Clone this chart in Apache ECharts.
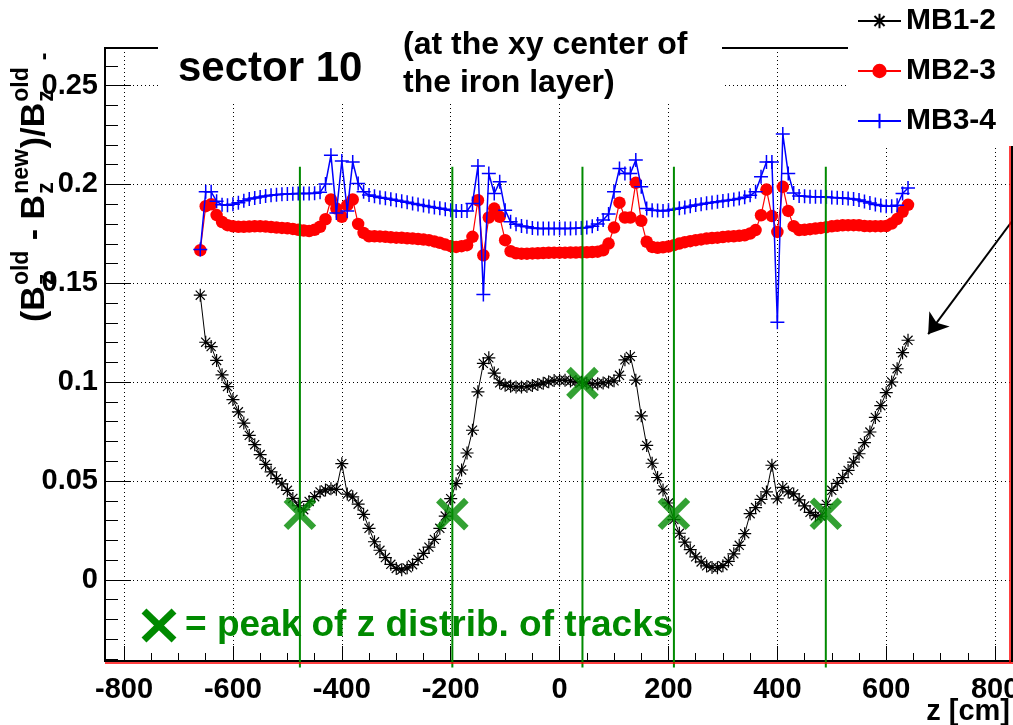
<!DOCTYPE html>
<html>
<head>
<meta charset="utf-8">
<title>sector 10</title>
<script src="https://cdn.jsdelivr.net/npm/echarts@6/dist/echarts.min.js"></script>
<style>
  html, body { margin: 0; padding: 0; background: #fff; }
  #chart { width: 1013px; height: 725px; }
</style>
</head>
<body>
<div id="chart"></div>
<script>
// z positions of the field samples [cm]
const zPositions = [
  -660, -650, -640, -630, -620, -610, -600, -590, -580, -570,
  -560, -550, -540, -530, -520, -510, -500, -490, -480, -470,
  -460, -450, -440, -430, -420, -410, -400, -390, -380, -370,
  -360, -350, -340, -330, -320, -310, -300, -290, -280, -270,
  -260, -250, -240, -230, -220, -210, -200, -190, -180, -170,
  -160, -150, -140, -130, -120, -110, -100, -90, -80, -70,
  -60, -50, -40, -30, -20, -10, 0, 10, 20, 30,
  40, 50, 60, 70, 80, 90, 100, 110, 120, 130,
  140, 150, 160, 170, 180, 190, 200, 210, 220, 230,
  240, 250, 260, 270, 280, 290, 300, 310, 320, 330,
  340, 350, 360, 370, 380, 390, 400, 410, 420, 430,
  440, 450, 460, 470, 480, 490, 500, 510, 520, 530,
  540, 550, 560, 570, 580, 590, 600, 610, 620, 630,
  640
];

// (Bz_old - Bz_new) / Bz_old between MB1 and MB2
const mb12 = [
  0.1440, 0.1202, 0.1180, 0.1110, 0.1037, 0.0978, 0.0912, 0.0850, 0.0793, 0.0731,
  0.0684, 0.0634, 0.0584, 0.0546, 0.0512, 0.0486, 0.0453, 0.0412, 0.0375, 0.0355,
  0.0397, 0.0421, 0.0445, 0.0455, 0.0461, 0.0458, 0.0588, 0.0434, 0.0420, 0.0383,
  0.0332, 0.0261, 0.0193, 0.0150, 0.0113, 0.0079, 0.0058, 0.0051, 0.0061, 0.0077,
  0.0104, 0.0134, 0.0166, 0.0205, 0.0261, 0.0323, 0.0411, 0.0487, 0.0556, 0.0642,
  0.0757, 0.0951, 0.1095, 0.1123, 0.1046, 0.0997, 0.0984, 0.0979, 0.0976, 0.0976,
  0.0978, 0.0983, 0.0988, 0.0995, 0.1002, 0.1008, 0.1010, 0.1010, 0.1006, 0.1003,
  0.1000, 0.0995, 0.0991, 0.0992, 0.0996, 0.1001, 0.1007, 0.1035, 0.1113, 0.1130,
  0.1010, 0.0830, 0.0680, 0.0590, 0.0518, 0.0455, 0.0389, 0.0305, 0.0236, 0.0191,
  0.0153, 0.0117, 0.0091, 0.0071, 0.0063, 0.0062, 0.0072, 0.0094, 0.0132, 0.0175,
  0.0234, 0.0335, 0.0366, 0.0407, 0.0445, 0.0580, 0.0410, 0.0468, 0.0445, 0.0435,
  0.0405, 0.0374, 0.0342, 0.0325, 0.0322, 0.0382, 0.0453, 0.0488, 0.0517, 0.0554,
  0.0596, 0.0638, 0.0694, 0.0748, 0.0822, 0.0881, 0.0947, 0.1001, 0.1068, 0.1149,
  0.1212
];

// same ratio between MB2 and MB3
const mb23 = [
  0.1667, 0.1890, 0.1900, 0.1845, 0.1810, 0.1794, 0.1788, 0.1786, 0.1786, 0.1787,
  0.1788, 0.1788, 0.1787, 0.1785, 0.1782, 0.1780, 0.1778, 0.1775, 0.1771, 0.1767,
  0.1764, 0.1771, 0.1786, 0.1824, 0.1924, 0.1878, 0.1836, 0.1895, 0.1924, 0.1800,
  0.1755, 0.1738, 0.1738, 0.1737, 0.1735, 0.1733, 0.1731, 0.1730, 0.1728, 0.1726,
  0.1724, 0.1721, 0.1718, 0.1712, 0.1705, 0.1696, 0.1688, 0.1684, 0.1688, 0.1693,
  0.1735, 0.1920, 0.1642, 0.1833, 0.1878, 0.1836, 0.1718, 0.1662, 0.1652, 0.1650,
  0.1650, 0.1651, 0.1652, 0.1653, 0.1654, 0.1655, 0.1655, 0.1655, 0.1656, 0.1656,
  0.1657, 0.1657, 0.1658, 0.1660, 0.1667, 0.1701, 0.1782, 0.1908, 0.1833, 0.1833,
  0.2008, 0.1816, 0.1710, 0.1684, 0.1680, 0.1682, 0.1686, 0.1693, 0.1701, 0.1708,
  0.1713, 0.1718, 0.1722, 0.1726, 0.1729, 0.1731, 0.1734, 0.1737, 0.1738, 0.1740,
  0.1743, 0.1752, 0.1769, 0.1844, 0.1974, 0.1840, 0.1760, 0.1988, 0.1866, 0.1789,
  0.1769, 0.1771, 0.1774, 0.1777, 0.1780, 0.1784, 0.1788, 0.1791, 0.1793, 0.1794,
  0.1794, 0.1793, 0.1790, 0.1789, 0.1789, 0.1789, 0.1790, 0.1802, 0.1825, 0.1862,
  0.1897
];

// same ratio between MB3 and MB4
const mb34 = [
  0.1671, 0.1963, 0.1963, 0.1915, 0.1897, 0.1895, 0.1900, 0.1908, 0.1918, 0.1926,
  0.1932, 0.1937, 0.1941, 0.1945, 0.1948, 0.1950, 0.1952, 0.1953, 0.1954, 0.1954,
  0.1954, 0.1955, 0.1960, 0.2002, 0.2148, 0.1856, 0.2118, 0.1866, 0.2114, 0.2005,
  0.1963, 0.1946, 0.1940, 0.1934, 0.1930, 0.1925, 0.1920, 0.1915, 0.1910, 0.1904,
  0.1899, 0.1893, 0.1888, 0.1884, 0.1879, 0.1874, 0.1870, 0.1866, 0.1866, 0.1866,
  0.1904, 0.2093, 0.1444, 0.2055, 0.1954, 0.2013, 0.1870, 0.1811, 0.1799, 0.1790,
  0.1786, 0.1780, 0.1777, 0.1777, 0.1777, 0.1777, 0.1777, 0.1777, 0.1777, 0.1778,
  0.1780, 0.1782, 0.1789, 0.1800, 0.1820, 0.1850, 0.1963, 0.2081, 0.2055, 0.2055,
  0.2123, 0.1988, 0.1878, 0.1870, 0.1868, 0.1866, 0.1870, 0.1874, 0.1880, 0.1884,
  0.1890, 0.1896, 0.1900, 0.1905, 0.1909, 0.1912, 0.1916, 0.1920, 0.1924, 0.1929,
  0.1935, 0.1945, 0.1963, 0.2039, 0.2114, 0.2114, 0.1303, 0.2255, 0.2055, 0.1957,
  0.1941, 0.1940, 0.1938, 0.1938, 0.1938, 0.1937, 0.1934, 0.1933, 0.1931, 0.1929,
  0.1926, 0.1921, 0.1914, 0.1906, 0.1898, 0.1893, 0.1890, 0.1890, 0.1895, 0.1954,
  0.1982
];

// peaks of the z distribution of tracks
const peakZ = [-477, -197, 42, 210, 489];
const peakV = [0.0335, 0.0333, 0.0995, 0.0335, 0.0335];

// vertical extent of the green guide lines through the peaks
const guideTop = 0.209;
const guideBottom = -0.0443;

// arrow pointing at the MB1-2 curve end
const arrowFrom = [864, 0.1936];
const arrowTo = [677, 0.1243];

const seriesNames = ['MB1-2', 'MB2-3', 'MB3-4'];

const FONT = '"Liberation Sans", Arial, Helvetica, sans-serif';
const GREEN = '#008a00';
const ASTERISK = 'path://M0,5L10,5M5,0L5,10M1.5,1.5L8.5,8.5M1.5,8.5L8.5,1.5';
const PLUS = 'path://M0,5L10,5M5,0L5,10';
const CROSS = 'path://M0,0L10,10M0,10L10,0';

const pairs = (xs, ys) => xs.map((x, i) => [x, ys[i]]);

// rotated y-axis title with stacked sub/superscripts
const measureCtx = document.createElement('canvas').getContext('2d');
function textWidth(t, font) { measureCtx.font = font; return measureCtx.measureText(t).width; }
const mainFont = 'bold 34px ' + FONT;
const scriptFont = 'bold 23px ' + FONT;
const titlePieces = [
  { t: '(' }, { t: 'B' }, { sup: 'old', sub: 'z' },
  { t: ' - ' }, { t: 'B' }, { sup: 'new', sub: 'z' },
  { t: ')/' }, { t: 'B' }, { sup: 'old', sub: 'z' }
];
const titleChildren = [];
let cursor = 0;
titlePieces.forEach(p => {
  if (p.t) {
    titleChildren.push({ type: 'text', x: cursor, y: -12,
      style: { text: p.t, font: mainFont, fill: '#000', verticalAlign: 'middle' } });
    cursor += textWidth(p.t, mainFont);
  } else {
    titleChildren.push({ type: 'text', x: cursor + 1, y: -25,
      style: { text: p.sup, font: scriptFont, fill: '#000', verticalAlign: 'middle' } });
    titleChildren.push({ type: 'text', x: cursor + 1, y: 0,
      style: { text: p.sub, font: scriptFont, fill: '#000', verticalAlign: 'middle' } });
    cursor += Math.max(textWidth(p.sup, scriptFont), textWidth(p.sub, scriptFont)) + 2;
  }
});
titleChildren.push({ type: 'text', x: cursor + 6, y: -2,
  style: { text: '-', font: scriptFont, fill: '#000', verticalAlign: 'middle' } });

const dotted = { color: '#000', width: 1, type: [1, 3] };
const labelStyle = { fontFamily: FONT, fontWeight: 'bold', fontSize: 29, color: '#000' };

const chart = echarts.init(document.getElementById('chart'), null, { renderer: 'canvas' });

const option = {
  animation: false,
  backgroundColor: '#fff',
  grid: {
    left: 105, right: 1, top: 48, bottom: 64,
    containLabel: false, outerBoundsMode: 'none',
    show: true, borderColor: '#000', borderWidth: 2, backgroundColor: 'transparent'
  },
  xAxis: {
    type: 'value', min: -835, max: 831, splitNumber: 8,
    axisLine: { show: true, onZero: false, lineStyle: { color: '#000', width: 2 } },
    axisTick: { show: true, inside: true, length: 15, lineStyle: { color: '#000', width: 1 } },
    minorTick: { show: true, splitNumber: 4, length: 8, lineStyle: { color: '#000', width: 1 } },
    splitLine: { show: true, lineStyle: dotted },
    axisLabel: Object.assign({ margin: 14, showMinLabel: false, showMaxLabel: false }, labelStyle)
  },
  yAxis: {
    type: 'value', min: -0.041, max: 0.269, splitNumber: 6,
    axisLine: { show: true, onZero: false, lineStyle: { color: '#000', width: 2 } },
    axisTick: { show: true, inside: true, length: 26, lineStyle: { color: '#000', width: 1 } },
    minorTick: { show: true, splitNumber: 5, length: 13, lineStyle: { color: '#000', width: 1 } },
    splitLine: { show: true, lineStyle: dotted },
    axisLabel: Object.assign({ margin: 7, showMinLabel: false, showMaxLabel: false }, labelStyle)
  },
  legend: {
    data: seriesNames, orient: 'vertical', left: 848, top: 0,
    padding: [6, 18, 10, 9], itemGap: 20, itemWidth: 43, itemHeight: 18,
    backgroundColor: '#fff', selectedMode: false, z: 30,
    textStyle: { fontFamily: FONT, fontWeight: 'bold', fontSize: 30, color: '#000', lineHeight: 30 }
  },
  series: [
    {
      name: 'MB1-2', type: 'line', data: pairs(zPositions, mb12), z: 2,
      symbol: ASTERISK, symbolSize: 13,
      lineStyle: { color: '#000', width: 1 },
      itemStyle: { color: '#000', borderColor: '#000', borderWidth: 1.2 }
    },
    {
      name: 'MB2-3', type: 'line', data: pairs(zPositions, mb23), z: 3,
      symbol: 'circle', symbolSize: 12.5,
      lineStyle: { color: '#ff0000', width: 1.2 },
      itemStyle: { color: '#ff0000', borderWidth: 0 }
    },
    {
      name: 'MB3-4', type: 'line', data: pairs(zPositions, mb34), z: 4,
      symbol: PLUS, symbolSize: 14,
      lineStyle: { color: '#0000ff', width: 1.5 },
      itemStyle: { color: '#0000ff', borderColor: '#0000ff', borderWidth: 1.5 }
    },
    {
      name: 'guides', type: 'custom', z: 5, silent: true, clip: false,
      data: peakZ.map(z => [z, guideTop, guideBottom]),
      encode: { x: 0, y: [1, 2] },
      renderItem: (params, api) => {
        const a = api.coord([api.value(0), api.value(1)]);
        const b = api.coord([api.value(0), api.value(2)]);
        return { type: 'line', shape: { x1: a[0], y1: a[1], x2: b[0], y2: b[1] },
                 style: { stroke: GREEN, lineWidth: 2 } };
      }
    },
    {
      name: 'peaks', type: 'scatter', z: 6, silent: true,
      data: pairs(peakZ, peakV),
      symbol: CROSS, symbolSize: 28,
      itemStyle: { color: GREEN, borderColor: GREEN, borderWidth: 6.5 }
    },
    {
      name: 'arrow', type: 'lines', coordinateSystem: 'cartesian2d', z: 6, silent: true, clip: false,
      data: [{ coords: [arrowFrom, arrowTo] }],
      symbol: ['none', 'arrow'], symbolSize: 19,
      lineStyle: { color: '#000', width: 2, opacity: 1 }
    }
  ],
  graphic: [
    // red frame lines along the bottom and the right edge
    { type: 'line', z: 8, silent: true, shape: { x1: 105, y1: 663, x2: 1013, y2: 663 },
      style: { stroke: '#ff0000', lineWidth: 1.5 } },
    { type: 'line', z: 8, silent: true, shape: { x1: 1010, y1: 146, x2: 1010, y2: 663 },
      style: { stroke: '#ff0000', lineWidth: 1.5 } },
    // white box behind the headline texts
    { type: 'rect', z: 20, silent: true, shape: { x: 158, y: 0, width: 564, height: 101 },
      style: { fill: '#fff' } },
    { type: 'text', z: 21, x: 178, y: 48, silent: true,
      style: { text: 'sector 10', font: 'bold 42px ' + FONT, fill: '#000' } },
    { type: 'text', z: 21, x: 403, y: 26, silent: true,
      style: { text: '(at the xy center of\nthe iron layer)', font: 'bold 32px ' + FONT,
               fill: '#000', lineHeight: 38 } },
    // peak marker key
    { type: 'line', z: 21, silent: true, shape: { x1: 144, y1: 611, x2: 174, y2: 640 },
      style: { stroke: GREEN, lineWidth: 7 } },
    { type: 'line', z: 21, silent: true, shape: { x1: 144, y1: 640, x2: 174, y2: 611 },
      style: { stroke: GREEN, lineWidth: 7 } },
    { type: 'text', z: 21, x: 185, y: 607, silent: true,
      style: { text: '= peak of z distrib. of tracks', font: 'bold 37px ' + FONT, fill: GREEN } },
    // axis titles
    { type: 'text', z: 21, x: 1010, y: 697, silent: true,
      style: { text: 'z [cm]', font: 'bold 29px ' + FONT, fill: '#000', align: 'right' } },
    { type: 'group', z: 21, x: 47, y: 322, rotation: Math.PI / 2, silent: true, children: titleChildren }
  ]
};

chart.setOption(option);
</script>
</body>
</html>
